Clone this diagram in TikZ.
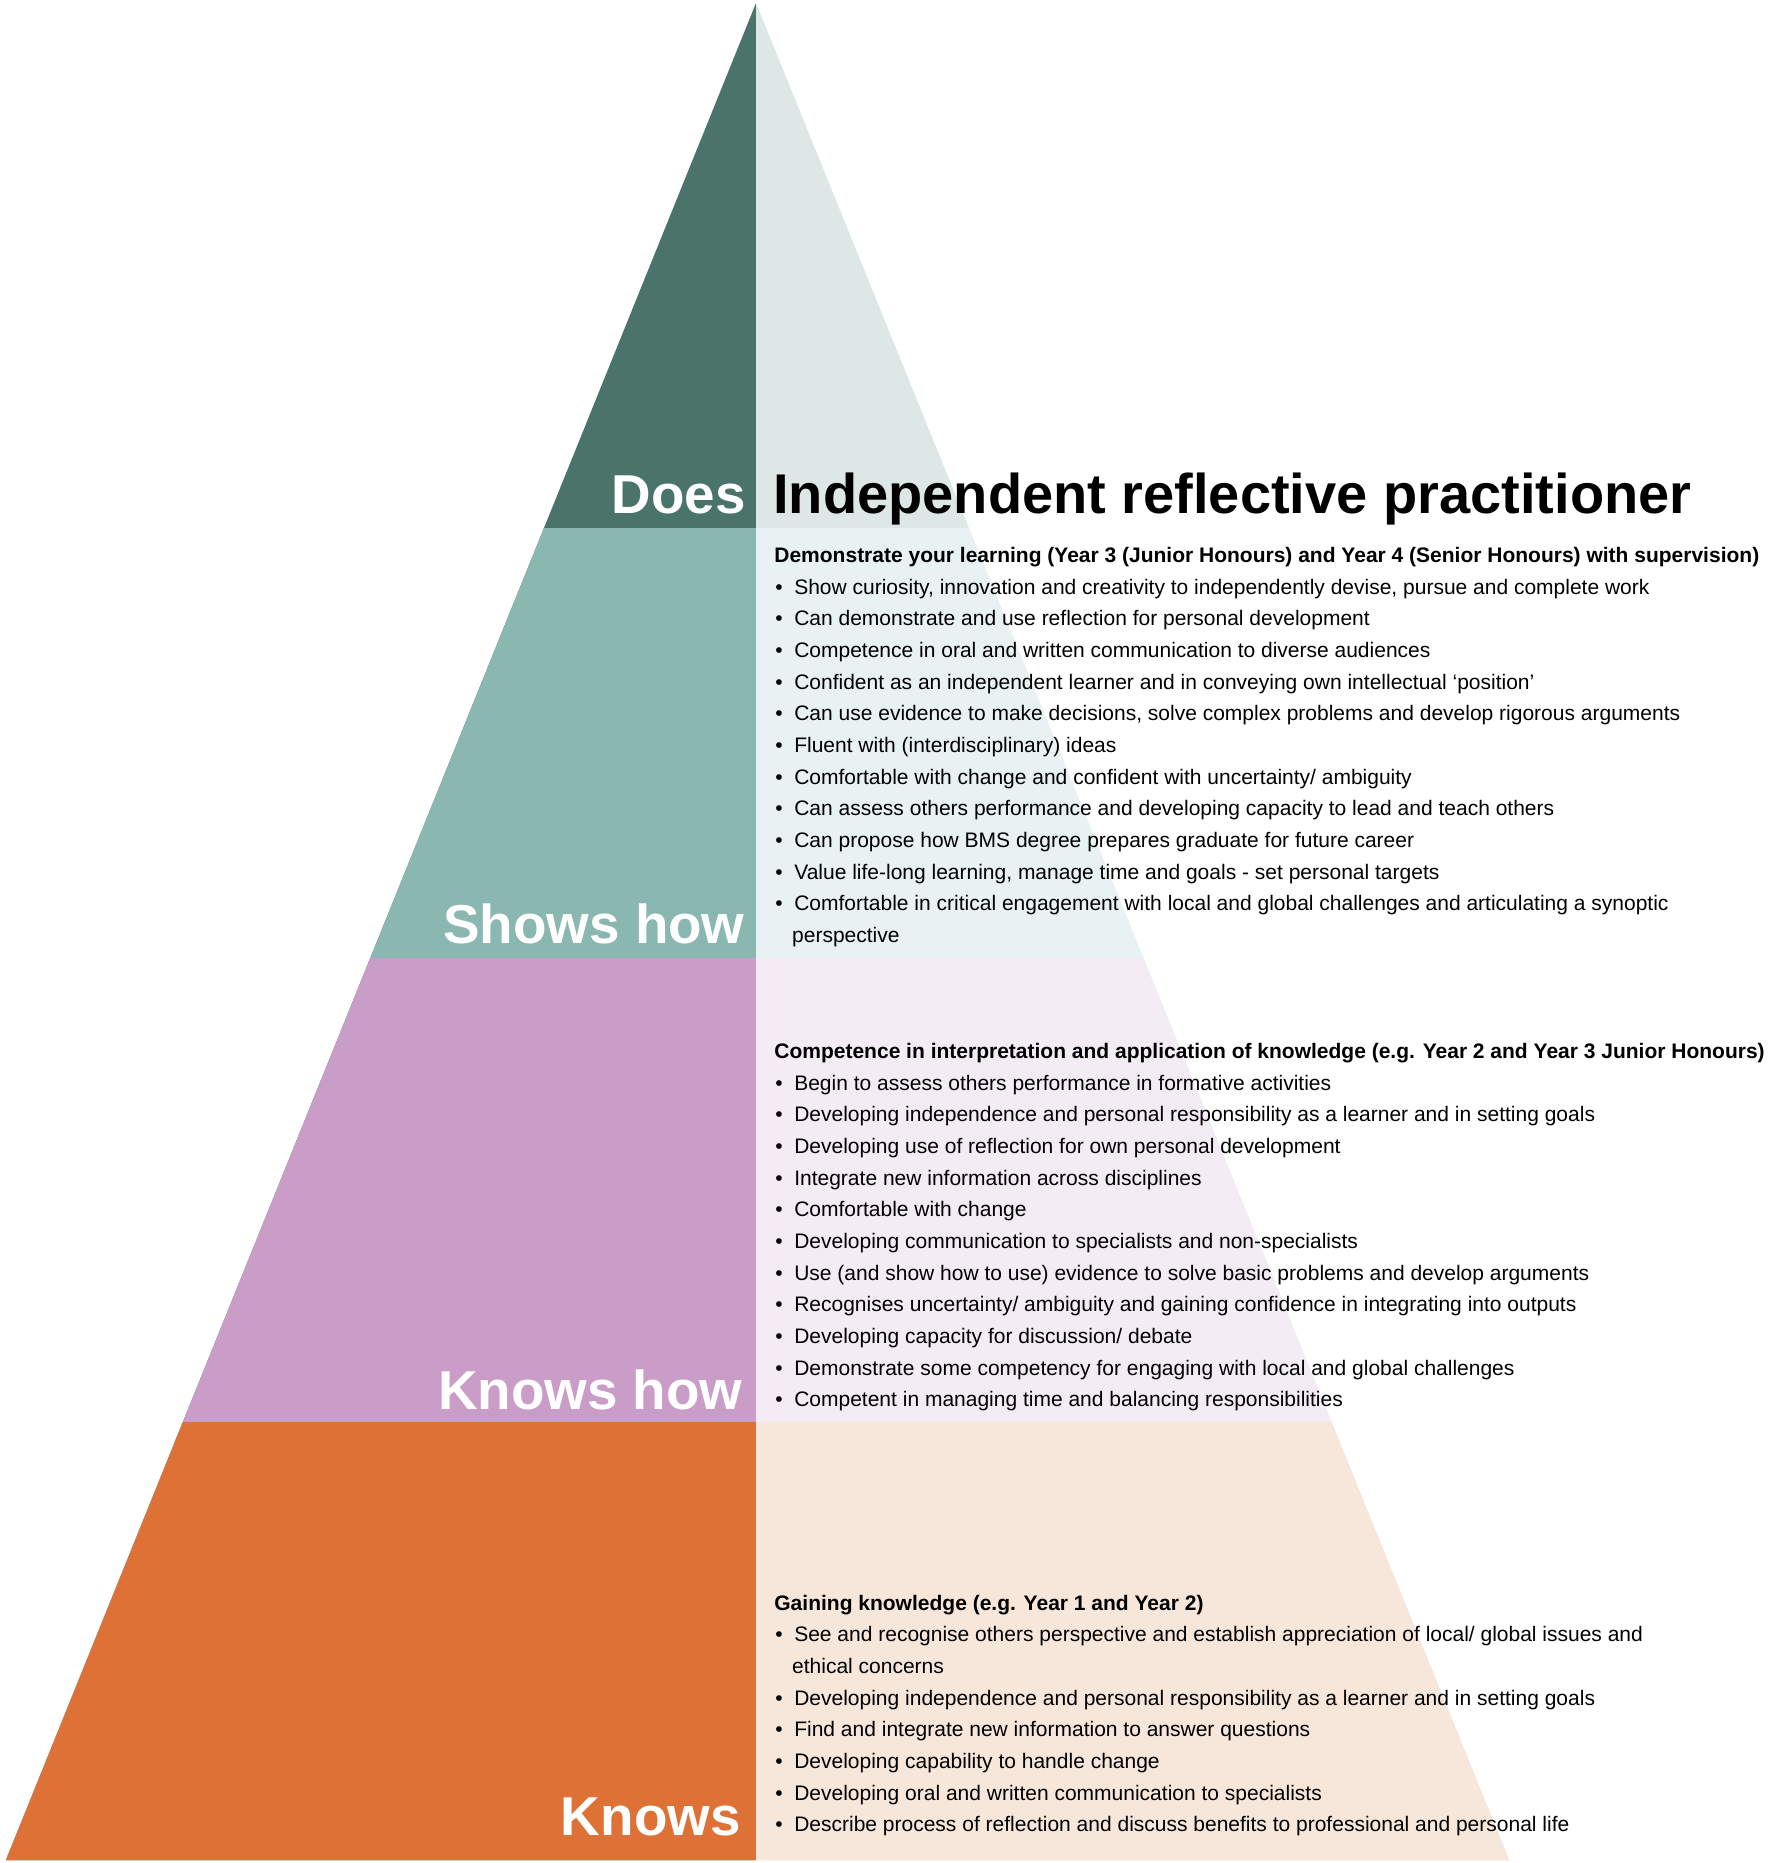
\documentclass[tikz,border=0pt]{standalone}
\usepackage{fontspec}
\setmainfont{Liberation Sans}
\definecolor{doesdark}{HTML}{4A7369}
\definecolor{doeslight}{HTML}{DDE7E5}
\definecolor{showsdark}{HTML}{8AB7B0}
\definecolor{showslight}{HTML}{E8F2F2}
\definecolor{khdark}{HTML}{C99DC8}
\definecolor{khlight}{HTML}{F3ECF4}
\definecolor{kdark}{HTML}{DE7236}
\definecolor{klight}{HTML}{F7E6DA}
\newcommand{\bul}{\makebox[0.9em][l]{\textbullet}}
\newcommand{\cont}{\hspace*{0.8em}}

\begin{document}
\begin{tikzpicture}[x=0.5pt,y=-0.5pt,
    level/.style={anchor=base east,inner sep=0pt,text=white,font=\fontsize{27.4}{30}\selectfont\bfseries},
    head/.style={anchor=base west,inner sep=0pt,font=\fontsize{10.5}{12}\selectfont\bfseries},
    item/.style={anchor=base west,inner sep=0pt,font=\fontsize{10.5}{12}\selectfont}]
\useasboundingbox (0,0) rectangle (1772,1863);
\fill[white] (0,0) rectangle (1772,1863);
\coordinate (apex) at (756,3);
\coordinate (bl) at (6,1860);
\coordinate (br) at (1509,1860);
% the four bands of the pyramid
\begin{scope}
  \clip (apex) -- (bl) -- (br) -- cycle;
  \foreach \ytop/\dark/\light in {3/doesdark/doeslight,528/showsdark/showslight,958/khdark/khlight,1422/kdark/klight}{
    \fill[\dark] (0,\ytop) rectangle (756,1863);
    \fill[\light] (756,\ytop) rectangle (1772,1863);
  }
\end{scope}
\node[level] (does) at (746,513) {Does};
\node[anchor=base west,inner sep=0pt,font=\fontsize{28}{30}\selectfont\bfseries] (title) at (773,513) {Independent reflective practitioner};
\node[level] (shows) at (745,943) {Shows how};
\node[level] (knowshow) at (743,1409) {Knows how};
\node[level] (knows) at (741,1835) {Knows};
% shows how
\node[head] (showshead) at (774,562) {Demonstrate your learning (Year 3 (Junior Honours) and Year 4 (Senior Honours) with supervision)};
\foreach \txt [count=\i] in {
    {\bul Show curiosity, innovation and creativity to independently devise, pursue and complete work},
    {\bul Can demonstrate and use reflection for personal development},
    {\bul Competence in oral and written communication to diverse audiences},
    {\bul Confident as an independent learner and in conveying own intellectual ‘position’},
    {\bul Can use evidence to make decisions, solve complex problems and develop rigorous arguments},
    {\bul Fluent with (interdisciplinary) ideas},
    {\bul Comfortable with change and confident with uncertainty/ ambiguity},
    {\bul Can assess others performance and developing capacity to lead and teach others},
    {\bul Can propose how BMS degree prepares graduate for future career},
    {\bul Value life-long learning, manage time and goals - set personal targets},
    {\bul Comfortable in critical engagement with local and global challenges and articulating a synoptic},
    {\cont perspective}}
  \node[item] (shows\i) at (775,{594+31.67*(\i-1)}) {\txt};
% knows how
\node[head] (knowshowhead) at (774,1058) {Competence in interpretation and application of knowledge (e.g. Year 2 and Year 3 Junior Honours)};
\foreach \txt [count=\i] in {
    {\bul Begin to assess others performance in formative activities},
    {\bul Developing independence and personal responsibility as a learner and in setting goals},
    {\bul Developing use of reflection for own personal development},
    {\bul Integrate new information across disciplines},
    {\bul Comfortable with change},
    {\bul Developing communication to specialists and non-specialists},
    {\bul Use (and show how to use) evidence to solve basic problems and develop arguments},
    {\bul Recognises uncertainty/ ambiguity and gaining confidence in integrating into outputs},
    {\bul Developing capacity for discussion/ debate},
    {\bul Demonstrate some competency for engaging with local and global challenges},
    {\bul Competent in managing time and balancing responsibilities}}
  \node[item] (knowshow\i) at (775,{1090+31.67*(\i-1)}) {\txt};
% knows
\node[head] (knowshead) at (774,1610.7) {Gaining knowledge (e.g. Year 1 and Year 2)};
\foreach \txt [count=\i] in {
    {\bul See and recognise others perspective and establish appreciation of local/ global issues and},
    {\cont ethical concerns},
    {\bul Developing independence and personal responsibility as a learner and in setting goals},
    {\bul Find and integrate new information to answer questions},
    {\bul Developing capability to handle change},
    {\bul Developing oral and written communication to specialists},
    {\bul Describe process of reflection and discuss benefits to professional and personal life}}
  \node[item] (knows\i) at (775,{1641.7+31.67*(\i-1)}) {\txt};
\end{tikzpicture}
\end{document}
